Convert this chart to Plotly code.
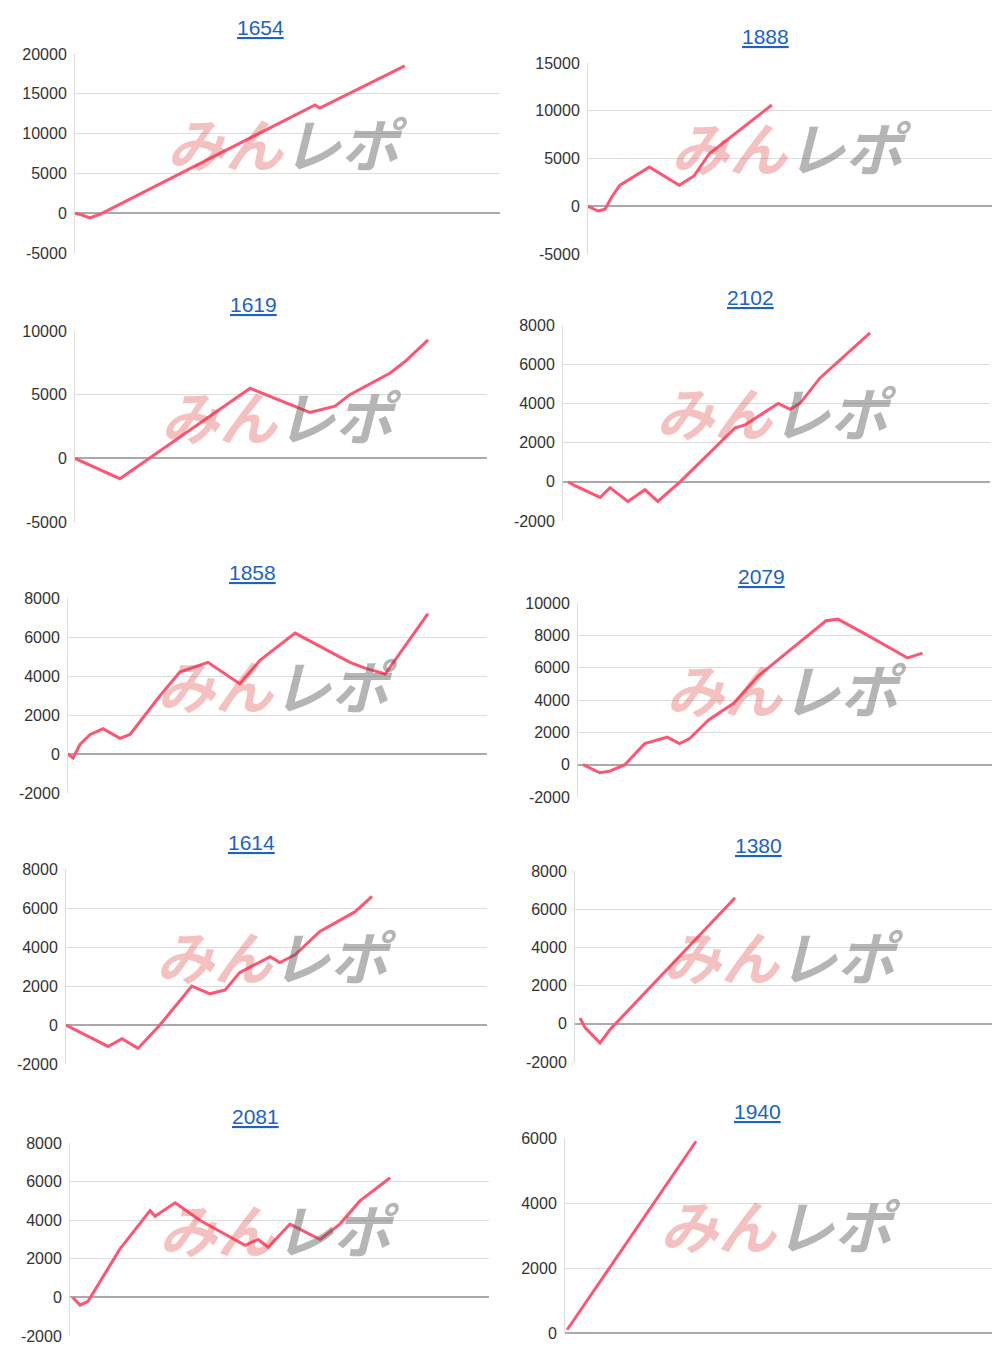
import plotly.graph_objects as go

titles = ["1654", "1888", "1619", "2102", "1858", "2079", "1614", "1380", "2081", "1940"]

x1654 = [0, 1.5, 3.5, 6, 56.5, 57.6, 77.6]
y1654 = [0, -200, -600, -100, 13600, 13200, 18500]
x1888 = [0, 2.5, 4.2, 5.9, 7.9, 15.2, 22.6, 26.3, 30, 45.5]
y1888 = [0, -500, -300, 1000, 2200, 4100, 2200, 3200, 5500, 10600]
x1619 = [0, 10.9, 42.5, 57, 63.1, 66.7, 76.5, 80.1, 85.7]
y1619 = [0, -1600, 5500, 3600, 4100, 5000, 6700, 7600, 9300]
x2102 = [1.2, 2.8, 8.7, 11, 15.2, 19.2, 22.2, 27.4, 40.3, 42.6, 50.4, 53.2, 55.5, 60.2, 71.9]
y2102 = [0, -200, -800, -300, -1000, -400, -1000, 0, 2750, 2900, 4000, 3700, 4000, 5300, 7600]
x1858 = [0, 1.2, 2.9, 5.3, 8.4, 12.4, 14.8, 22, 26.7, 33.4, 41, 45.8, 54.2, 67.3, 70.9, 75.7, 85.9]
y1858 = [0, -200, 500, 1000, 1300, 800, 1000, 3000, 4200, 4700, 3600, 4800, 6200, 4700, 4400, 4100, 7200]
x2079 = [1.2, 5.3, 7.7, 11.3, 16.1, 21.6, 24.5, 26.9, 31.7, 37.6, 43.6, 53.2, 59.9, 62.8, 70, 79.6, 83.2]
y2079 = [0, -500, -400, 0, 1300, 1700, 1300, 1600, 2800, 3800, 5500, 7500, 8900, 9000, 8000, 6600, 6900]
x1614 = [0, 10, 13.3, 17.1, 22.3, 29.9, 34.2, 37.8, 41.3, 48.5, 50.8, 54.4, 60.3, 68.6, 72.7]
y1614 = [0, -1100, -700, -1200, 0, 2000, 1600, 1800, 2700, 3500, 3200, 3600, 4800, 5800, 6600]
x1380 = [1.2, 2.4, 6, 8.4, 38.4]
y1380 = [300, -200, -1000, -300, 6600]
x2081 = [0.7, 2.4, 4.3, 11.9, 19.1, 20.3, 25.1, 31, 41.8, 44.9, 47.3, 52.5, 59.7, 64.4, 69.2, 76.4]
y2081 = [0, -400, -200, 2500, 4500, 4200, 4900, 4000, 2700, 3000, 2600, 3800, 3000, 3800, 5000, 6200]
x1940 = [0.5, 30.7]
y1940 = [100, 5900]

series = [(x1654, y1654), (x1888, y1888), (x1619, y1619), (x2102, y2102), (x1858, y1858),
          (x2079, y2079), (x1614, y1614), (x1380, y1380), (x2081, y2081), (x1940, y1940)]
yranges = [(-5000, 20000, 5000), (-5000, 15000, 5000), (-5000, 10000, 5000), (-2000, 8000, 2000),
           (-2000, 8000, 2000), (-2000, 10000, 2000), (-2000, 8000, 2000), (-2000, 8000, 2000),
           (-2000, 8000, 2000), (0, 6000, 2000)]
# pixel boxes: x0, x1, ytop, ybottom, title y, title x
boxes = [(75, 500, 54, 253, 27, 260), (588, 995, 63, 254, 37, 765), (75, 487, 331, 522, 304, 253),
         (563, 990, 325, 521, 298, 750), (68, 487, 598, 793, 572, 252), (578, 995, 603, 797, 577, 761),
         (66, 487, 869, 1064, 842, 251), (575, 992, 871, 1062, 845, 758), (70, 489, 1143, 1336, 1116, 255),
         (565, 995, 1138, 1333, 1111, 757)]

OFF = 8  # page body margin
W, H = 1000 - 2 * OFF, 1356 - OFF
fig = go.Figure()
for i, ((xs, ys), (lo, hi, st), (x0, x1, yt, yb, ty, tx)) in enumerate(zip(series, yranges, boxes)):
    x0, x1, yt, yb, ty, tx = x0 - OFF, x1 - OFF, yt - OFF, yb - OFF, ty - OFF, tx - OFF
    n = "" if i == 0 else str(i + 1)
    tv = list(range(lo, hi + 1, st))
    fig.add_trace(go.Scatter(x=xs, y=ys, mode="lines", line=dict(color="#ff5572", width=3),
                             xaxis="x" + n, yaxis="y" + n, showlegend=False))
    fig.layout["xaxis" + n] = dict(domain=[x0 / W, min(x1 / W, 1)], range=[0, 100], showgrid=False,
                                   showticklabels=False, zeroline=False, anchor="y" + n,
                                   automargin=False)
    fig.layout["yaxis" + n] = dict(domain=[1 - yb / H, 1 - yt / H], range=[lo, hi],
                                   tickvals=tv, ticktext=[str(v) for v in tv], ticklabelstandoff=4,
                                   gridcolor="#dddddd", zeroline=True, zerolinecolor="#aaaaaa",
                                   showline=True, linecolor="#dddddd", anchor="x" + n, automargin=False,
                                   tickfont=dict(size=16, color="#333", family="Liberation Sans"))
    fig.add_annotation(text="<u>" + titles[i] + "</u>", x=tx / W, y=1 - ty / H, xref="paper", yref="paper",
                       xanchor="center", yanchor="middle", showarrow=False,
                       font=dict(size=21, color="#1a63c9", family="Liberation Sans"))
    wy = 1 - ((yt + yb) / 2 - 12) / H
    wx = (x0 + 0.5 * (x1 - x0)) / W
    fig.add_annotation(text="<b><i><span style='color:rgba(224,60,60,0.32)'>みん</span>"
                            "<span style='color:rgba(90,90,90,0.45)'>レポ</span></i></b>",
                       x=wx, y=wy, xref="paper", yref="paper", showarrow=False,
                       xanchor="center", yanchor="middle",
                       font=dict(size=58, family="Noto Sans CJK JP"))

fig.update_layout(width=W, height=H, margin=dict(l=0, r=0, t=0, b=0),
                  plot_bgcolor="white", paper_bgcolor="white")
fig.write_html("out.html")
